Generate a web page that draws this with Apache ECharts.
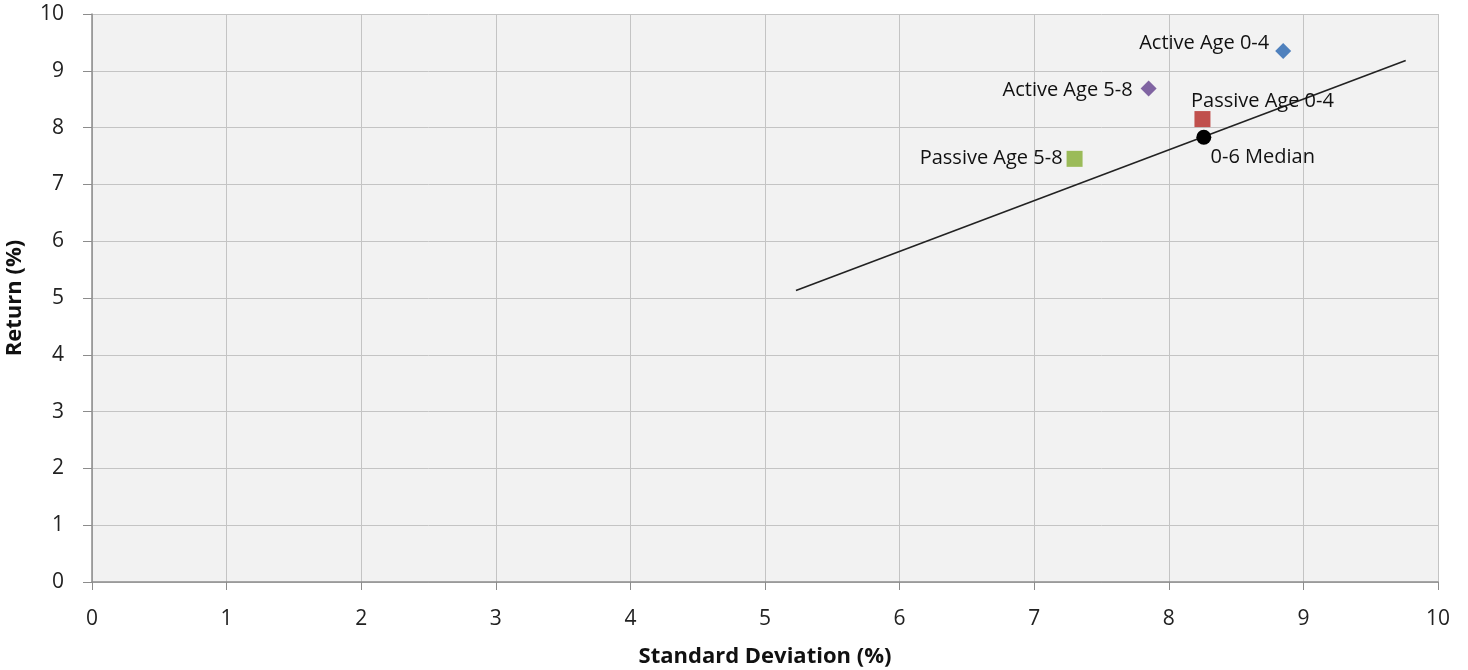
<!DOCTYPE html>
<html><head><meta charset="utf-8">
<script src="https://cdn.jsdelivr.net/npm/echarts@6/dist/echarts.min.js"></script>
<style>html,body{margin:0;padding:0;background:#fff}#c{width:1468px;height:670px}</style>
</head><body><div id="c"></div>
<script>
const names = ['Active Age 0-4', 'Active Age 5-8', 'Passive Age 0-4', 'Passive Age 5-8', '0-6 Median'];
const stdDev = [8.85, 7.85, 8.25, 7.30, 8.26];
const returns = [9.35, 8.69, 8.15, 7.45, 7.83];
const lineX = [5.23, 9.76];
const lineY = [5.13, 9.18];
const xTicks = [0,1,2,3,4,5,6,7,8,9,10];
const yTicks = [0,1,2,3,4,5,6,7,8,9,10];

const colors = ['#4F81BD', '#8064A2', '#C0504D', '#9BBB59', '#000000'];
const symbols = ['diamond', 'diamond', 'rect', 'rect', 'circle'];
const sizes = [[16,16],[16,16],[16,16],[16,16],[15,15]];
const labelCfg = [
  {position: 'left', distance: 6, offset: [0, -8]},
  {position: 'left', distance: 8, offset: [0, 2]},
  {position: 'top', distance: 0, offset: [60, 0]},
  {position: 'left', distance: 4, offset: [0, -1]},
  {position: 'bottom', distance: 3, offset: [59, 0]}
];
const FONT = 'Open Sans';
const chart = echarts.init(document.getElementById('c'), null, {renderer: 'canvas'});
const series = [{
  type: 'line',
  data: lineX.map((x, i) => [x, lineY[i]]),
  symbol: 'none',
  lineStyle: {color: '#222', width: 1.6},
  silent: true,
  z: 2
}];
names.forEach((n, i) => {
  series.push({
    type: 'scatter',
    name: n,
    data: [[stdDev[i], returns[i]]],
    symbol: symbols[i],
    symbolSize: sizes[i],
    itemStyle: {color: colors[i], opacity: 1},
    label: {
      show: true,
      formatter: n,
      position: labelCfg[i].position,
      distance: labelCfg[i].distance,
      offset: labelCfg[i].offset,
      color: '#111',
      fontSize: 20,
      fontFamily: FONT
    },
    z: 3
  });
});
chart.setOption({
  animation: false,
  backgroundColor: '#fff',
  grid: {left: 92, right: 30, top: 14, bottom: 88, show: true, backgroundColor: '#f2f2f2', borderWidth: 0, containLabel: false, outerBoundsMode: 'none'},
  xAxis: {
    type: 'value', min: 0, max: 10, interval: 1,
    name: 'Standard Deviation (%)', nameLocation: 'middle', nameGap: 64,
    nameTextStyle: {fontFamily: FONT, fontWeight: 'bold', fontSize: 22, color: '#111'},
    axisLine: {show: true, lineStyle: {color: '#8c8c8c', width: 1.5}},
    axisTick: {show: true, length: 8, lineStyle: {color: '#8c8c8c'}},
    axisLabel: {fontFamily: FONT, fontSize: 21, color: '#222', margin: 27, formatter: v => xTicks.includes(v) ? String(v) : ''},
    splitLine: {show: true, lineStyle: {color: '#c4c4c4', width: 1}}
  },
  yAxis: {
    type: 'value', min: 0, max: 10, interval: 1,
    name: 'Return (%)', nameLocation: 'middle', nameGap: 66, nameRotate: 90,
    nameTextStyle: {fontFamily: FONT, fontWeight: 'bold', fontSize: 22, color: '#111'},
    axisLine: {show: true, lineStyle: {color: '#8c8c8c', width: 1.5}},
    axisTick: {show: true, length: 9, lineStyle: {color: '#8c8c8c'}},
    axisLabel: {fontFamily: FONT, fontSize: 21, color: '#222', margin: 28, formatter: v => yTicks.includes(v) ? String(v) : ''},
    splitLine: {show: true, lineStyle: {color: '#c4c4c4', width: 1}}
  },
  series: series
});
</script></body></html>
